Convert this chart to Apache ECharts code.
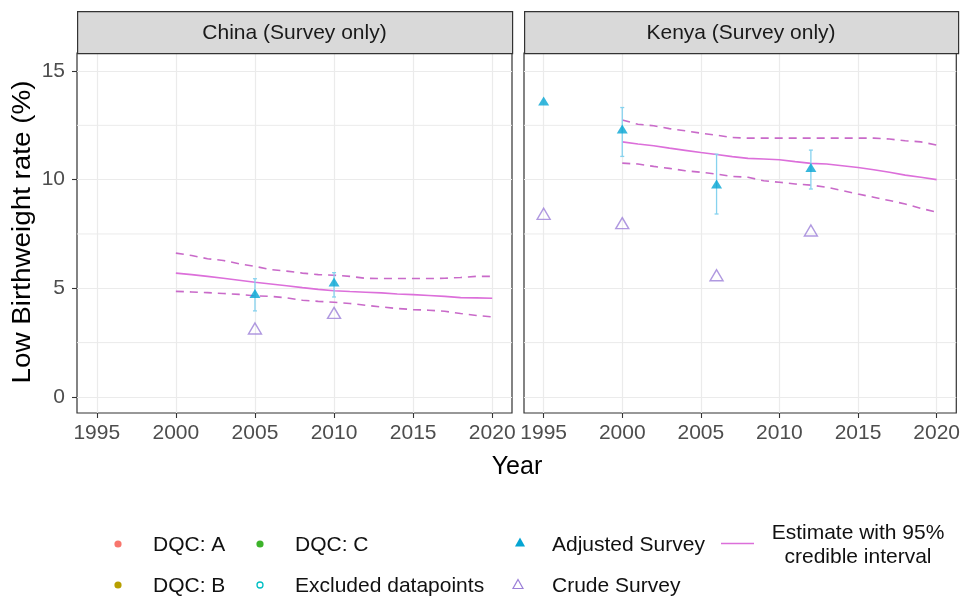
<!DOCTYPE html>
<html>
<head>
<meta charset="utf-8">
<script src="https://cdn.jsdelivr.net/npm/echarts@6/dist/echarts.min.js"></script>
<style>
  html, body { margin: 0; padding: 0; background: #ffffff; }
  #chart { width: 963px; height: 599px; }
</style>
</head>
<body>
<div id="chart"></div>
<script>
// ---- Data ----------------------------------------------------------------
const panelTitles = ['China (Survey only)', 'Kenya (Survey only)'];
const xTicks = [1995, 2000, 2005, 2010, 2015, 2020];
const yTicks = [0, 5, 10, 15];
const yMinorTicks = [2.5, 7.5, 12.5];

// Model estimate years (median with 95% credible bounds)
const estimateYears = [2000, 2001, 2002, 2003, 2004, 2005, 2006, 2007, 2008, 2009, 2010,
                       2011, 2012, 2013, 2014, 2015, 2016, 2017, 2018, 2019, 2020];

const chinaMedian = [5.70, 5.63, 5.55, 5.46, 5.37, 5.28, 5.20, 5.12, 5.03, 4.95, 4.89,
                     4.85, 4.82, 4.79, 4.74, 4.71, 4.67, 4.63, 4.57, 4.56, 4.54];
const chinaUpper  = [6.62, 6.51, 6.36, 6.28, 6.13, 6.01, 5.86, 5.79, 5.70, 5.63, 5.60,
                     5.55, 5.46, 5.45, 5.45, 5.45, 5.45, 5.46, 5.50, 5.55, 5.55];
const chinaLower  = [4.86, 4.83, 4.80, 4.76, 4.72, 4.65, 4.63, 4.56, 4.45, 4.40, 4.36,
                     4.30, 4.22, 4.14, 4.07, 4.02, 3.99, 3.94, 3.84, 3.75, 3.68];

const kenyaMedian = [11.74, 11.64, 11.56, 11.45, 11.35, 11.25, 11.16, 11.06, 10.98, 10.95, 10.92,
                     10.83, 10.75, 10.72, 10.64, 10.56, 10.46, 10.34, 10.21, 10.11, 10.00];
const kenyaUpper  = [12.75, 12.55, 12.48, 12.35, 12.25, 12.14, 12.05, 11.94, 11.91, 11.91, 11.91,
                     11.91, 11.91, 11.91, 11.91, 11.91, 11.91, 11.87, 11.79, 11.74, 11.59];
const kenyaLower  = [10.76, 10.72, 10.61, 10.52, 10.41, 10.34, 10.26, 10.15, 10.11, 9.95, 9.88,
                     9.80, 9.75, 9.65, 9.50, 9.34, 9.19, 9.04, 8.88, 8.68, 8.50];

// Survey data points
const chinaSurveyYears = [2005, 2010];
const chinaAdjusted    = [4.76, 5.29];
const chinaAdjLow      = [3.96, 4.60];
const chinaAdjHigh     = [5.44, 5.72];
const chinaCrude       = [3.15, 3.87];

const kenyaSurveyYears = [1995, 2000, 2006, 2012];
const kenyaAdjusted    = [13.62, 12.33, 9.80, 10.56];
const kenyaAdjLow      = [null, 11.07, 8.42, 9.57];
const kenyaAdjHigh     = [null, 13.32, 11.17, 11.36];
const kenyaCrude       = [8.43, 8.00, 5.60, 7.66];

// ---- Styling -------------------------------------------------------------
const FONT = "'Liberation Sans', Arial, sans-serif";
const COL_EST = '#DC6FDA';
const COL_BAND = '#C96AC9';
const COL_ADJ = '#05A5D3';
const COL_ERR = '#86D2EE';
const COL_CRUDE = '#9C80D8';
const COL_GRID = '#EBEBEB';

const panels = [
  { left: 77, width: 435 },
  { left: 524, width: 434 }
];
const PANEL_TOP = 53, PANEL_H = 360, STRIP_TOP = 11;

const pairs = (xs, ys) => xs.map((x, i) => [x, ys[i]]);
const errData = (xs, lo, hi) => xs.map((x, i) => [x, lo[i], hi[i]]).filter(d => d[1] != null);

const grid = panels.map(p => ({
  left: p.left, top: PANEL_TOP, width: p.width, height: PANEL_H,
  show: true, borderColor: '#333333', borderWidth: 1.2, backgroundColor: '#ffffff',
  containLabel: false
}));

const xAxis = panels.map((p, i) => ({
  type: 'value', gridIndex: i, min: 1993.75, max: 2021.25,
  axisLine: { show: false, onZero: false },
  axisTick: { show: true, customValues: xTicks, length: 5, lineStyle: { color: '#333333', width: 1.1 } },
  axisLabel: { customValues: xTicks, fontSize: 21, color: '#4D4D4D', margin: 10, fontFamily: FONT,
               formatter: v => String(v) },
  splitLine: { show: true, lineStyle: { color: COL_GRID, width: 1.2 } }
}));

const yAxis = panels.map((p, i) => ({
  type: 'value', gridIndex: i, min: -0.74, max: 15.83,
  axisLine: { show: false, onZero: false },
  axisTick: { show: i === 0, customValues: yTicks, length: 5, lineStyle: { color: '#333333', width: 1.1 } },
  axisLabel: { show: i === 0, customValues: yTicks, fontSize: 21, color: '#4D4D4D', margin: 12, fontFamily: FONT,
               formatter: v => String(v) },
  splitLine: { show: true, lineStyle: { color: COL_GRID, width: 1.2 } }
}));

// Minor horizontal grid lines, drawn through the axis scales
function minorGridSeries(i) {
  return {
    type: 'custom', xAxisIndex: i, yAxisIndex: i, z: 1, silent: true,
    data: yMinorTicks.map(v => [v]),
    renderItem: function (params, api) {
      const a = api.coord([1993.75, api.value(0)]);
      const b = api.coord([2021.25, api.value(0)]);
      return { type: 'line', shape: { x1: a[0], y1: a[1], x2: b[0], y2: b[1] },
               style: { stroke: COL_GRID, lineWidth: 1 } };
    }
  };
}

function errorBarSeries(i, data) {
  return {
    type: 'custom', xAxisIndex: i, yAxisIndex: i, z: 3, silent: true,
    data: data,
    renderItem: function (params, api) {
      const top = api.coord([api.value(0), api.value(2)]);
      const bot = api.coord([api.value(0), api.value(1)]);
      const cap = 2;
      const st = { stroke: COL_ERR, lineWidth: 1.3 };
      return { type: 'group', children: [
        { type: 'line', shape: { x1: top[0], y1: top[1], x2: bot[0], y2: bot[1] }, style: st },
        { type: 'line', shape: { x1: top[0] - cap, y1: top[1], x2: top[0] + cap, y2: top[1] }, style: st },
        { type: 'line', shape: { x1: bot[0] - cap, y1: bot[1], x2: bot[0] + cap, y2: bot[1] }, style: st }
      ] };
    }
  };
}

function estimateSeries(i, med, up, lo) {
  const base = { type: 'line', xAxisIndex: i, yAxisIndex: i, showSymbol: false, symbol: 'none',
                 silent: true, z: 2, animation: false };
  return [
    Object.assign({}, base, { name: 'Estimate', data: pairs(estimateYears, med),
      lineStyle: { color: COL_EST, width: 1.6 } }),
    Object.assign({}, base, { name: 'Upper', data: pairs(estimateYears, up),
      lineStyle: { color: COL_BAND, width: 1.6, type: [8, 6] } }),
    Object.assign({}, base, { name: 'Lower', data: pairs(estimateYears, lo),
      lineStyle: { color: COL_BAND, width: 1.6, type: [8, 6] } })
  ];
}

function pointSeries(i, years, adj, crude) {
  return [
    { type: 'scatter', xAxisIndex: i, yAxisIndex: i, name: 'Crude Survey', z: 4,
      symbol: 'triangle', symbolSize: [13, 11], data: pairs(years, crude),
      itemStyle: { color: 'rgba(0,0,0,0)', borderColor: COL_CRUDE, borderWidth: 1.4 } },
    { type: 'scatter', xAxisIndex: i, yAxisIndex: i, name: 'Adjusted Survey', z: 5,
      symbol: 'triangle', symbolSize: [11, 9], data: pairs(years, adj),
      itemStyle: { color: COL_ADJ } }
  ];
}

const series = [
  minorGridSeries(0), minorGridSeries(1),
  ...estimateSeries(0, chinaMedian, chinaUpper, chinaLower),
  ...estimateSeries(1, kenyaMedian, kenyaUpper, kenyaLower),
  errorBarSeries(0, errData(chinaSurveyYears, chinaAdjLow, chinaAdjHigh)),
  errorBarSeries(1, errData(kenyaSurveyYears, kenyaAdjLow, kenyaAdjHigh)),
  ...pointSeries(0, chinaSurveyYears, chinaAdjusted, chinaCrude),
  ...pointSeries(1, kenyaSurveyYears, kenyaAdjusted, kenyaCrude)
];

// ---- Facet strips, axis titles and legend --------------------------------
const graphic = [];
panels.forEach((p, i) => {
  graphic.push({ type: 'rect', left: p.left, top: STRIP_TOP, z: 10,
    shape: { x: 0, y: 0, width: p.width, height: PANEL_TOP - STRIP_TOP },
    style: { fill: '#D9D9D9', stroke: '#333333', lineWidth: 1.2 } });
  graphic.push({ type: 'text', x: p.left + p.width / 2, y: (STRIP_TOP + PANEL_TOP) / 2 + 1, z: 11,
    style: { text: panelTitles[i], font: '21px ' + FONT, fill: '#1A1A1A', align: 'center', verticalAlign: 'middle' } });
});

graphic.push({ type: 'text', x: 517, y: 467, z: 11,
  style: { text: 'Year', font: '25px ' + FONT, fill: '#000000', align: 'center', verticalAlign: 'middle' } });
graphic.push({ type: 'text', x: 23, y: 232, rotation: Math.PI / 2, scaleX: 1.07, z: 11,
  style: { text: 'Low Birthweight rate (%)', font: '26px ' + FONT, fill: '#000000', align: 'center', verticalAlign: 'middle' } });

const legendText = (x, y, t) => ({ type: 'text', x: x, y: y, z: 11,
  style: { text: t, font: '21px ' + FONT, fill: '#111111', align: 'left', verticalAlign: 'middle' } });
const tri = (cx, cy, w, h) => [[cx, cy - h / 2], [cx + w / 2, cy + h / 2], [cx - w / 2, cy + h / 2]];

const ROW1 = 545, ROW2 = 586;
graphic.push(
  { type: 'circle', shape: { cx: 118, cy: ROW1 - 1, r: 3.6 }, style: { fill: '#F8766D' }, z: 11 },
  legendText(153, ROW1, 'DQC: A'),
  { type: 'circle', shape: { cx: 260, cy: ROW1 - 1, r: 3.6 }, style: { fill: '#3DB32A' }, z: 11 },
  legendText(295, ROW1, 'DQC: C'),
  { type: 'polygon', shape: { points: tri(520, ROW1 - 3, 10, 9) }, style: { fill: COL_ADJ }, z: 11 },
  legendText(552, ROW1, 'Adjusted Survey'),
  { type: 'line', shape: { x1: 721, y1: ROW1 - 1.5, x2: 754, y2: ROW1 - 1.5 }, style: { stroke: COL_EST, lineWidth: 1.6 }, z: 11 },
  { type: 'text', x: 858, y: ROW1, z: 11,
    style: { text: 'Estimate with 95%\ncredible interval', font: '21px ' + FONT, lineHeight: 24,
             fill: '#111111', align: 'center', verticalAlign: 'middle' } },
  { type: 'circle', shape: { cx: 118, cy: ROW2 - 1, r: 3.6 }, style: { fill: '#B79F00' }, z: 11 },
  legendText(153, ROW2, 'DQC: B'),
  { type: 'circle', shape: { cx: 260, cy: ROW2 - 1, r: 3 }, style: { fill: 'none', stroke: '#00BFC4', lineWidth: 1.3 }, z: 11 },
  legendText(295, ROW2, 'Excluded datapoints'),
  { type: 'polygon', shape: { points: tri(518, ROW2 - 2, 10, 9) }, style: { fill: 'none', stroke: COL_CRUDE, lineWidth: 1.2 }, z: 11 },
  legendText(552, ROW2, 'Crude Survey')
);

const chart = echarts.init(document.getElementById('chart'), null, { renderer: 'canvas' });
chart.setOption({
  backgroundColor: '#ffffff',
  animation: false,
  textStyle: { fontFamily: FONT },
  grid: grid,
  xAxis: xAxis,
  yAxis: yAxis,
  series: series,
  graphic: graphic
});
</script>
</body>
</html>
